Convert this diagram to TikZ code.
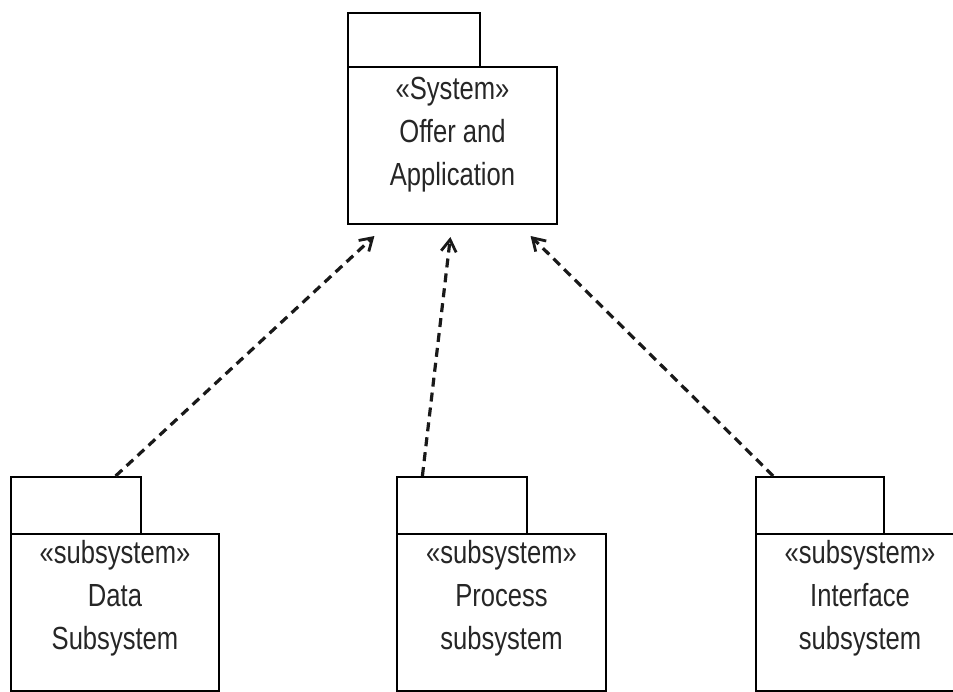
\documentclass[tikz,border=0pt]{standalone}
\usepackage{fontspec}
\setmainfont{Liberation Sans}[FakeStretch=0.8]
\usetikzlibrary{arrows.meta,calc}
\begin{document}
\begin{tikzpicture}[x=1pt,y=-1pt,
  pkgbody/.style={draw, line width=2pt, inner sep=0pt, minimum height=157pt, anchor=north west},
  pkgtab/.style={draw, line width=2pt, inner sep=0pt, minimum height=57pt, anchor=north west},
  pkglabel/.style={anchor=north, inner sep=0pt, align=center, text=black!85,
    font=\fontsize{32}{43}\selectfont},
  dep/.style={draw, line width=3.2pt, dash pattern=on 9pt off 6pt, black!90,
    -{Straight Barb[length=12pt,width=15pt,line width=2.8pt]}}]
\useasboundingbox (0,0) rectangle (953,691);

% system package
\node[pkgtab, minimum width=132pt, minimum height=54pt] (systab) at (347,12) {};
\node[pkgbody, minimum width=209pt] (sys) at (347,66) {};
\node[pkglabel, yshift=-11pt] (syslabel) at (sys.north) {«System»\\Offer and\\Application};

% subsystem packages
\node[pkgtab, minimum width=130pt] (datatab) at (10,476) {};
\node[pkgbody, minimum width=208pt] (data) at (10,533) {};
\node[pkglabel, yshift=-7pt] (datalabel) at (data.north) {«subsystem»\\Data\\Subsystem};

\node[pkgtab, minimum width=130pt] (proctab) at (396,476) {};
\node[pkgbody, minimum width=209pt] (proc) at (396,533) {};
\node[pkglabel, yshift=-7pt] (proclabel) at (proc.north) {«subsystem»\\Process\\subsystem};

\node[pkgtab, minimum width=128pt] (intftab) at (755,476) {};
\node[pkgbody, minimum width=208pt] (intf) at (755,533) {};
\node[pkglabel, yshift=-7pt] (intflabel) at (intf.north) {«subsystem»\\Interface\\subsystem};

% dependencies
\draw[dep] ($(datatab.north west)!0.80!(datatab.north east)$)
  -- ($(sys.south west)!0.13!(sys.south east)+(0,11)$);
\draw[dep] ($(proctab.north west)!0.20!(proctab.north east)$)
  -- ($(sys.south west)!0.49!(sys.south east)+(0,12)$);
\draw[dep] ($(intftab.north west)!0.14!(intftab.north east)$)
  -- ($(sys.south west)!0.87!(sys.south east)+(0,11)$);
\end{tikzpicture}
\end{document}
